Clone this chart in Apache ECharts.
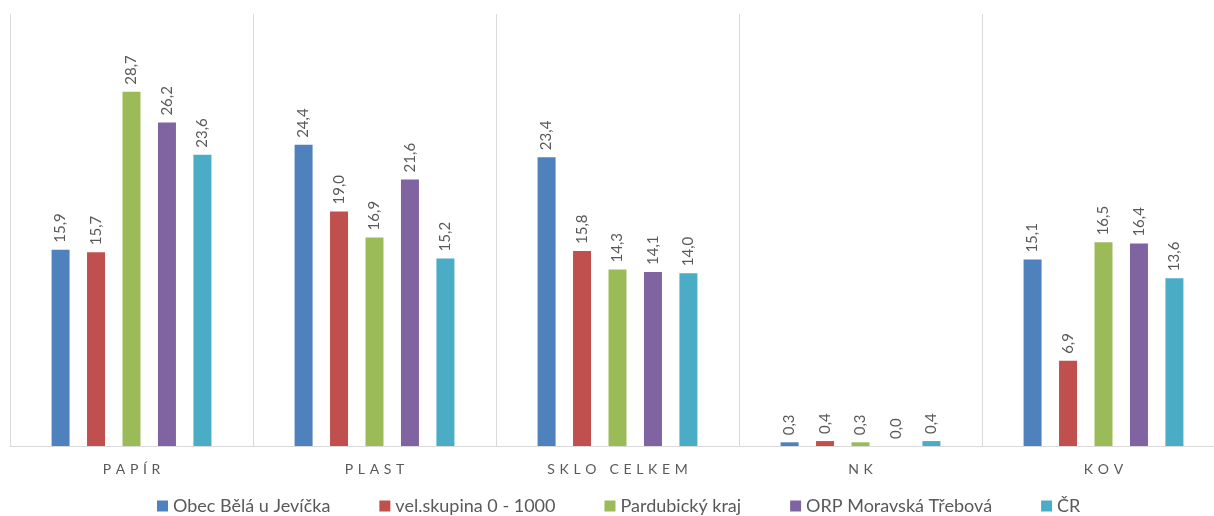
<!DOCTYPE html>
<html><head><meta charset="utf-8">
<script src="https://cdn.jsdelivr.net/npm/echarts@6/dist/echarts.min.js"></script>
<style>html,body{margin:0;padding:0;background:#fff;overflow:hidden}#c{width:1226px;height:516px}</style>
</head><body><div id="c"></div>
<script>
const categories = ['PAPÍR', 'PLAST', 'SKLO CELKEM', 'NK', 'KOV'];
const seriesNames = ['Obec Bělá u Jevíčka', 'vel.skupina 0 - 1000', 'Pardubický kraj', 'ORP Moravská Třebová', 'ČR'];
const obec = [15.9, 24.4, 23.4, 0.3, 15.1];
const velSkupina = [15.7, 19.0, 15.8, 0.4, 6.9];
const pardubicky = [28.7, 16.9, 14.3, 0.3, 16.5];
const orp = [26.2, 21.6, 14.1, 0.0, 16.4];
const cr = [23.6, 15.2, 14.0, 0.4, 13.6];
const seriesData = [obec, velSkupina, pardubicky, orp, cr];
const colors = ['#4f81bd', '#c0504d', '#9bbb59', '#8064a2', '#4bacc6'];
const font = 'Lato, "Open Sans", sans-serif';
const spaced = s => s.split('').join('\u2004');

const chart = echarts.init(document.getElementById('c'));
chart.setOption({
  animation: false,
  color: colors,
  textStyle: {fontFamily: font},
  grid: {left: 10, right: 1, top: 14, bottom: 70, containLabel: false},
  legend: {
    data: seriesNames, top: 492, left: 152, itemWidth: 11, itemHeight: 11, itemGap: 49,
    icon: 'rect',
    textStyle: {fontSize: 18, color: '#595959', fontFamily: font}
  },
  xAxis: {
    type: 'category', data: categories,
    axisLine: {lineStyle: {color: '#d9d9d9', width: 1}},
    axisTick: {show: false},
    splitLine: {show: true, lineStyle: {color: '#d9d9d9', width: 1}},
    axisLabel: {color: '#595959', fontSize: 14, margin: 16, fontFamily: font, formatter: v => spaced(v)}
  },
  yAxis: {type: 'value', min: 0, max: 35, show: false, splitLine: {show: false}},
  series: seriesNames.map((n, i) => ({
    name: n, type: 'bar', data: seriesData[i], barWidth: 18, barGap: '97%',
    label: {
      show: true, position: 'top', rotate: 90, align: 'left', verticalAlign: 'middle',
      distance: 7, color: '#595959', fontSize: 15, fontFamily: font,
      formatter: p => p.value.toFixed(1).replace('.', ',')
    }
  }))
});
</script></body></html>
